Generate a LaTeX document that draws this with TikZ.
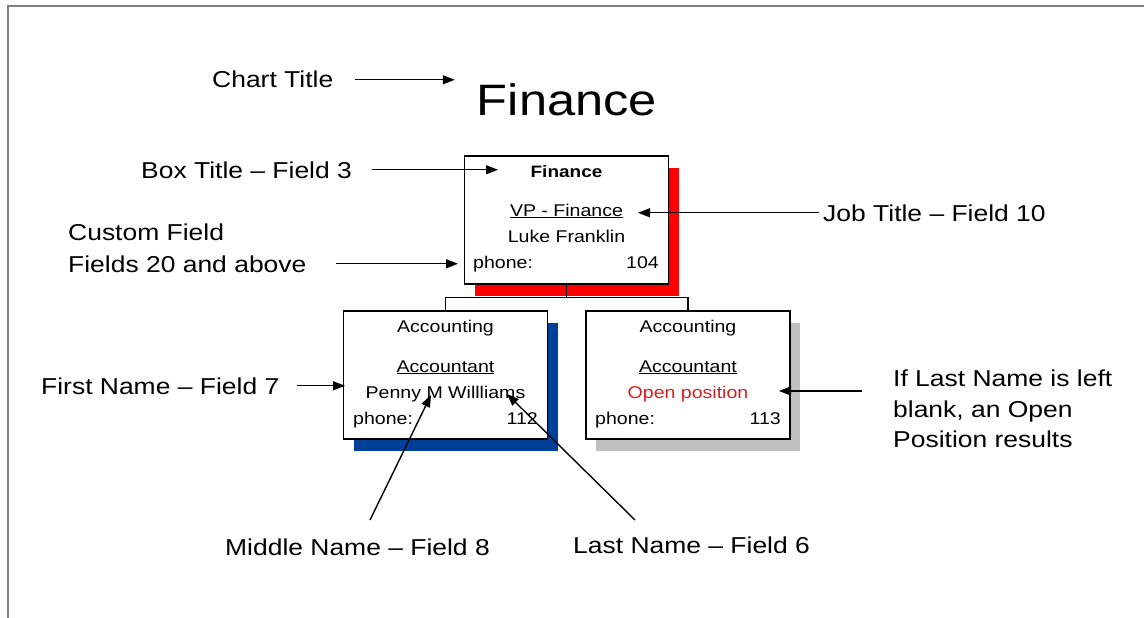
\documentclass[tikz,border=0pt]{standalone}
\usepackage{fontspec}
\setmainfont{Liberation Sans}[FakeStretch=1.15]
\usetikzlibrary{arrows.meta,shadows}
\definecolor{shadowblue}{RGB}{0,64,152}
\definecolor{shadowgray}{RGB}{192,192,192}
\definecolor{openred}{RGB}{214,32,32}
\definecolor{framegray}{RGB}{128,128,128}
\begin{document}
\begin{tikzpicture}[x=1pt,y=-1pt,
  orgbox/.style={draw, line width=1.5pt, fill=white, minimum width=204pt,
    minimum height=128pt, inner sep=0pt,
    drop shadow={shadow xshift=10pt, shadow yshift=-12pt, opacity=1, fill=#1}},
  boxtext/.style={inner sep=0pt, anchor=base, font=\fontsize{17}{20}\selectfont},
  note/.style={inner sep=0pt, anchor=base west, font=\fontsize{23}{28}\selectfont},
  pointer/.style={-{Triangle[length=12pt,width=9pt]}, line width=1.4pt},
  link/.style={line width=1.4pt}]
\useasboundingbox (0,0) rectangle (1144,618);
% Marco
\draw[framegray, line width=2pt] (8,618) -- (8,6) -- (1144,6);
% Titulo del organigrama
\node[inner sep=0pt, anchor=base, font=\fontsize{44}{50}\selectfont] (ftitle) at (567,116) {Finance};
% Cajas
\node[orgbox=red] (fin) at (566.5,220) {};
\node[orgbox=shadowblue] (acc1) at (445.5,375) {};
\node[orgbox=shadowgray] (acc2) at (688,375) {};
% Lineas del organigrama
\draw[link] (fin.south) -- ++(0,13) -| (acc1.north);
\draw[link] (fin.south) -- ++(0,13) -| (acc2.north);
% Textos de la caja superior
\node[boxtext, font=\fontsize{16.5}{20}\selectfont\bfseries] (fint) at (566.5,177) {Finance};
\node[boxtext] (finj) at (566.5,216) {\underline{VP - Finance}};
\node[boxtext] (finn) at (566.5,242) {Luke Franklin};
\node[boxtext, anchor=base west] (finp) at (473,268) {phone:};
\node[boxtext, anchor=base east] (finx) at (659,268) {104};
% Textos de la caja izquierda
\node[boxtext] (acc1t) at (445.5,332) {Accounting};
\node[boxtext] (acc1j) at (445.5,372) {\underline{Accountant}};
\node[boxtext] (acc1n) at (445.5,398) {Penny M Willliams};
\node[boxtext, anchor=base west] (acc1p) at (353,424) {phone:};
\node[boxtext, anchor=base east] (acc1x) at (538,424) {112};
% Textos de la caja derecha
\node[boxtext] (acc2t) at (688,332) {Accounting};
\node[boxtext] (acc2j) at (688,372) {\underline{Accountant}};
\node[boxtext, text=openred] (acc2n) at (688,398) {Open position};
\node[boxtext, anchor=base west] (acc2p) at (595,424) {phone:};
\node[boxtext, anchor=base east] (acc2x) at (781,424) {113};
% Notas
\node[note] (ctitle) at (212,88) {Chart Title};
\node[note] (btitle) at (141,178) {Box Title -- Field 3};
\node[note] (custom) at (68,240) {Custom Field};
\node[note] (custom2) at (68,272) {Fields 20 and above};
\node[note] (jtitle) at (823,221) {Job Title -- Field 10};
\node[note] (fname) at (41,394) {First Name -- Field 7};
\node[note] (ifnote) at (893,386) {If Last Name is left};
\node[note] (ifnote2) at (893,417) {blank, an Open};
\node[note] (ifnote3) at (893,447) {Position results};
\node[note] (mname) at (225,555) {Middle Name -- Field 8};
\node[note] (lname) at (573,553) {Last Name -- Field 6};
% Puntas de flecha
\coordinate (tipbox) at (498,171);
\coordinate (tipcustom) at (458,263);
\coordinate (tipjob) at (638,213);
\coordinate (tipfirst) at (345,391);
\coordinate (tipopen) at (779,391);
\coordinate (startopen) at (862,391);
\coordinate (tipmiddle) at (431,395);
\coordinate (startmiddle) at (370,520);
\coordinate (tiplast) at (507,394);
\coordinate (startlast) at (635,520);
% Flechas
\draw[pointer, shorten <=22pt, shorten >=22pt] (ctitle.east) -- (ctitle.east -| ftitle.west);
\draw[pointer, shorten <=20pt] (btitle.east) -- (btitle.east -| tipbox);
\draw[pointer, shorten <=29pt] (custom2.east) -- (custom2.east -| tipcustom);
\draw[pointer, shorten <=4pt] (jtitle.west) -- (jtitle.west -| tipjob);
\draw[pointer, shorten <=17pt] (fname.east) -- (fname.east -| tipfirst);
\draw[pointer] (startopen) -- (tipopen);
\draw[pointer] (startmiddle) -- (tipmiddle);
\draw[pointer] (startlast) -- (tiplast);
\end{tikzpicture}
\end{document}
